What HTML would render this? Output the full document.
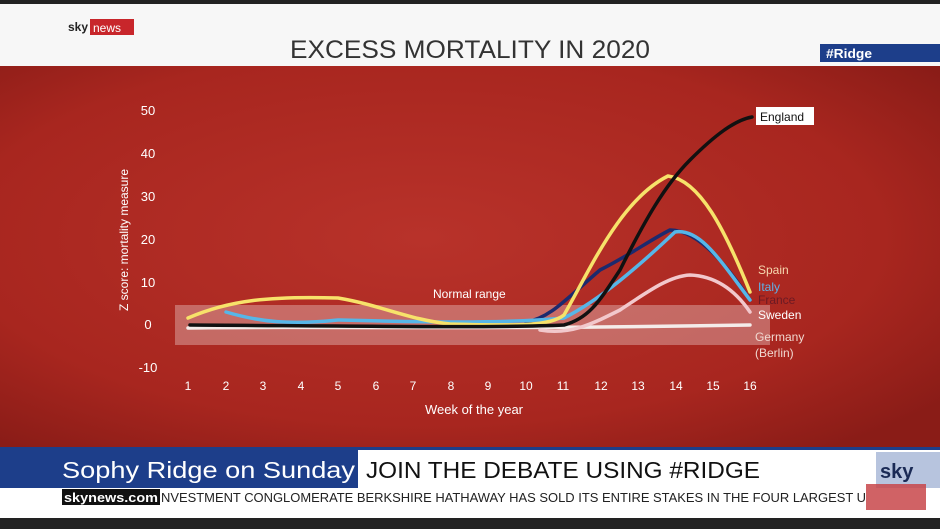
<!DOCTYPE html>
<html><head><style>
body{margin:0;width:940px;height:529px;overflow:hidden;background:#1a1a1a;font-family:"Liberation Sans",sans-serif}
</style></head><body>
<svg width="940" height="529" xmlns="http://www.w3.org/2000/svg" style="position:absolute;left:0;top:0">
<defs>
<radialGradient id="bg" cx="0.45" cy="0.45" r="0.7">
<stop offset="0" stop-color="#b8322a"/><stop offset="0.7" stop-color="#a8261f"/><stop offset="1" stop-color="#8a1c17"/>
</radialGradient>
</defs>
<rect x="0" y="0" width="940" height="4" fill="#222"/>
<rect x="0" y="4" width="940" height="62" fill="#f7f7f7"/>
<rect x="0" y="66" width="940" height="382" fill="url(#bg)"/>
<text x="68" y="31" font-size="12" font-weight="bold" fill="#222">sky</text>
<rect x="90" y="19" width="44" height="16" fill="#c8262b"/>
<text x="93" y="32" font-size="12" fill="#fff">news</text>
<text x="290" y="58" font-size="25" fill="#333" textLength="360" lengthAdjust="spacingAndGlyphs">EXCESS MORTALITY IN 2020</text>
<rect x="820" y="44" width="120" height="18" fill="#1d3e8a"/>
<text x="826" y="58" font-size="13" font-weight="bold" fill="#fff" textLength="46" lengthAdjust="spacingAndGlyphs">#Ridge</text>
<rect x="175" y="305" width="595" height="40" fill="#fff" opacity="0.3"/>
<text x="433" y="298" font-size="12" fill="#fff">Normal range</text>
<g font-size="13" fill="#fff" text-anchor="middle">
<text x="148" y="115">50</text><text x="148" y="158">40</text><text x="148" y="201">30</text><text x="148" y="244">20</text><text x="148" y="287">10</text><text x="148" y="329">0</text><text x="148" y="372">-10</text>
</g>
<text transform="translate(128,240) rotate(-90)" font-size="12" fill="#fff" text-anchor="middle">Z score: mortality measure</text>
<g font-size="12" fill="#fff" text-anchor="middle">
<text x="188" y="390">1</text><text x="226" y="390">2</text><text x="263" y="390">3</text><text x="301" y="390">4</text><text x="338" y="390">5</text><text x="376" y="390">6</text><text x="413" y="390">7</text><text x="451" y="390">8</text><text x="488" y="390">9</text><text x="526" y="390">10</text><text x="563" y="390">11</text><text x="601" y="390">12</text><text x="638" y="390">13</text><text x="676" y="390">14</text><text x="713" y="390">15</text><text x="750" y="390">16</text>
</g>
<text x="474" y="414" font-size="13" fill="#fff" text-anchor="middle">Week of the year</text>
<g fill="none" stroke-width="3.5" stroke-linecap="round">
<path d="M188,328 C300,326 450,330 750,325" stroke="#f4ecea"/>
<path d="M540,330 C570,335 590,325 620,310 C650,290 670,276 690,275 C715,276 735,290 750,312" stroke="#f2c8cc"/>
<path d="M526,322 C550,318 565,300 600,270 C630,255 650,240 670,230 C700,230 730,270 750,300" stroke="#1c2a6e"/>
<path d="M226,312 C260,322 290,325 338,320 C420,322 500,324 564,318 C600,300 640,265 675,232 C700,228 720,260 750,300" stroke="#56b6e8"/>
<path d="M188,318 C230,300 270,296 338,298 C380,305 410,320 450,324 C520,326 550,326 564,315 C590,270 620,200 668,176 C700,180 725,230 750,292" stroke="#f7e26a"/>
<path d="M190,325 C350,326 500,328 564,325 C590,318 600,300 620,270 C645,220 665,185 690,160 C715,135 735,120 752,117" stroke="#111"/>
</g>
<rect x="756" y="107" width="58" height="18" fill="#fff"/>
<text x="760" y="121" font-size="12" fill="#111">England</text>
<g font-size="12">
<text x="758" y="274" fill="#f6d8b0">Spain</text>
<text x="758" y="291" fill="#5fb0e8">Italy</text>
<text x="758" y="304" fill="#6b1a24">France</text>
<text x="758" y="319" fill="#fff">Sweden</text>
<text x="755" y="341" fill="#f0d8d0">Germany</text>
<text x="755" y="357" fill="#f0d8d0">(Berlin)</text>
</g>
<rect x="0" y="448" width="940" height="70" fill="#fff"/>
<rect x="0" y="447" width="940" height="3" fill="#1d3e8a"/>
<rect x="0" y="448" width="358" height="40" fill="#1d3e8a"/>
<text x="62" y="478" font-size="23" fill="#fff" textLength="293" lengthAdjust="spacingAndGlyphs">Sophy Ridge on Sunday</text>
<text x="366" y="478" font-size="23" fill="#111" textLength="394" lengthAdjust="spacingAndGlyphs">JOIN THE DEBATE USING #RIDGE</text>
<rect x="876" y="452" width="64" height="36" fill="#b7c4de"/>
<text x="880" y="478" font-size="20" font-weight="bold" fill="#1a2a55">sky</text>
<rect x="866" y="484" width="60" height="26" fill="#c8474a" opacity="0.85"/>
<rect x="62" y="489" width="98" height="16" fill="#111"/>
<text x="64" y="502" font-size="13" font-weight="bold" fill="#fff" textLength="94" lengthAdjust="spacingAndGlyphs">skynews.com</text>
<text x="161" y="502" font-size="13" fill="#222" textLength="705" lengthAdjust="spacingAndGlyphs">NVESTMENT CONGLOMERATE BERKSHIRE HATHAWAY HAS SOLD ITS ENTIRE STAKES IN THE FOUR LARGEST U</text>
<rect x="0" y="518" width="940" height="11" fill="#222"/>
</svg>
</body></html>
